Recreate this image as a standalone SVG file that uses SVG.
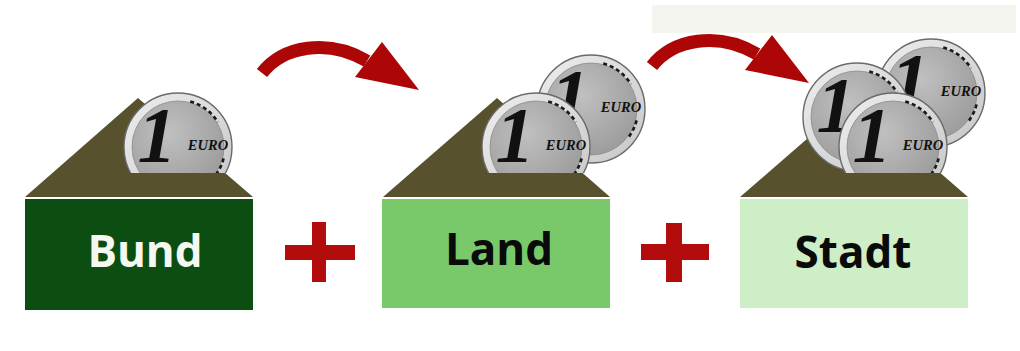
<svg xmlns="http://www.w3.org/2000/svg" xmlns:xlink="http://www.w3.org/1999/xlink" width="1020" height="351" viewBox="0 0 1020 351">
  <style>
    .roof { fill: #57512d; }
    .label { font-family: "Open Sans", "Liberation Sans", sans-serif; font-weight: 700; font-size: 44px; text-anchor: middle; }
    .arrow-shaft { fill: none; stroke: #ad0606; stroke-width: 13; }
    .arrow-head { fill: #ad0606; }
    .plus { fill: #b30c0c; }
    .coin-one { font-family: "Liberation Serif", "DejaVu Serif", serif; font-style: italic; font-weight: 700; font-size: 78px; fill: #111; text-anchor: middle; }
    .coin-euro { font-family: "Liberation Serif", "DejaVu Serif", serif; font-style: italic; font-weight: 700; font-size: 14.5px; fill: #111; text-anchor: middle; }
    .stars { fill: none; stroke: #1a1a1a; stroke-width: 2.6; stroke-dasharray: 4 3; }
  </style>
  <defs>
    <radialGradient id="faceGrad" cx="0.4" cy="0.35" r="0.75">
      <stop offset="0" stop-color="#c0c0c0"/>
      <stop offset="1" stop-color="#999999"/>
    </radialGradient>
    <linearGradient id="rimGrad" x1="0" y1="0" x2="1" y2="1">
      <stop offset="0" stop-color="#eeeeee"/>
      <stop offset="1" stop-color="#c6c6c6"/>
    </linearGradient>
    <!-- one euro coin, centred on the origin -->
    <g id="coin">
      <circle r="54" fill="url(#rimGrad)" stroke="#6a6a6a" stroke-width="1.4"/>
      <circle r="46" fill="url(#faceGrad)" stroke="#8c8c8c" stroke-width="0.8"/>
      <path class="stars" d="M12.2,-45.4 A47,47 0 0 1 39.9,-24.9"/>
      <path class="stars" d="M45.6,11.4 A47,47 0 0 1 37.0,28.9"/>
      <text class="coin-one" x="-21" y="14">1</text>
      <text class="coin-euro" x="30" y="3">EURO</text>
    </g>
    <clipPath id="slot1"><rect x="0" y="0" width="1020" height="173"/></clipPath>
  </defs>

  <!-- pale band in the top right corner -->
  <rect x="652" y="5" width="364" height="28" fill="#f4f5ee"/>

  <g id="node-bund">
    <polygon class="roof" points="25,197 138,98 253,197"/>
    <g clip-path="url(#slot1)">
      <use xlink:href="#coin" x="178" y="147"/>
    </g>
    <rect x="25" y="199" width="228" height="111" fill="#0c4e11"/>
    <text class="label" x="145" y="267" fill="#f4f8f0">Bund</text>
  </g>

  <g id="node-land">
    <polygon class="roof" points="383,197 497,98 610,197"/>
    <g clip-path="url(#slot1)">
      <use xlink:href="#coin" x="591" y="109"/>
      <use xlink:href="#coin" x="536" y="147"/>
    </g>
    <rect x="382" y="199" width="228" height="109" fill="#79c96a"/>
    <text class="label" x="499" y="265" fill="#0a0a0a">Land</text>
  </g>

  <g id="node-stadt">
    <polygon class="roof" points="740,197 854,98 968,197"/>
    <g clip-path="url(#slot1)">
      <use xlink:href="#coin" x="931" y="93"/>
      <use xlink:href="#coin" x="857" y="117"/>
      <use xlink:href="#coin" x="893" y="147"/>
    </g>
    <rect x="740" y="199" width="228" height="109" fill="#cdeec6"/>
    <text class="label" x="853" y="268" fill="#0a0a0a">Stadt</text>
  </g>

  <g id="operators">
    <g id="plus-1">
      <rect class="plus" x="285" y="245" width="70" height="15"/>
      <rect class="plus" x="312" y="222" width="14" height="60"/>
    </g>
    <g id="plus-2">
      <rect class="plus" x="641" y="244" width="68" height="16"/>
      <rect class="plus" x="666" y="223" width="16" height="59"/>
    </g>
  </g>

  <g id="connectors">
    <g id="arrow-bund-land">
      <path class="arrow-shaft" d="M262,73 C283,46 328,38 367,61"/>
      <polygon class="arrow-head" points="382,42 419,90 355,77"/>
    </g>
    <g id="arrow-land-stadt" transform="translate(390,-7)">
      <path class="arrow-shaft" d="M262,73 C283,46 328,38 367,61"/>
      <polygon class="arrow-head" points="382,42 419,90 355,77"/>
    </g>
  </g>
</svg>
